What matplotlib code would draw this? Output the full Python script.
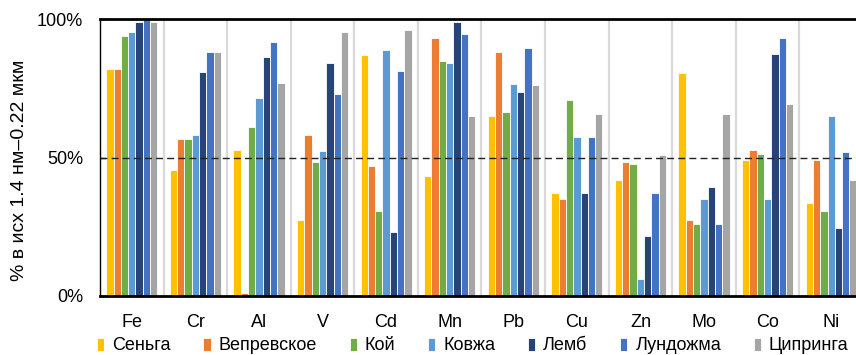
import numpy as np
import matplotlib.pyplot as plt

plt.rcParams['font.family'] = ['Liberation Sans', 'DejaVu Sans']

elements = ['Fe', 'Cr', 'Al', 'V', 'Cd', 'Mn', 'Pb', 'Cu', 'Zn', 'Mo', 'Co', 'Ni']
sites = ['Сеньга', 'Вепревское', 'Кой', 'Ковжа', 'Лемб', 'Лундожма', 'Ципринга']

# share of the 1.4 nm - 0.22 um fraction, %
senga = [82, 45.5, 52.8, 27.5, 87, 43.3, 65, 37.3, 41.8, 80.5, 49, 33.6]
veprevskoe = [82, 56.7, 1, 58, 47, 93, 88, 35, 48.4, 27.5, 52.8, 49]
koy = [94, 56.7, 61, 48.4, 30.7, 84.8, 66.3, 70.8, 47.7, 26, 51.4, 30.7]
kovzha = [95.3, 58, 71.5, 52.2, 88.7, 84.2, 76.6, 57.4, 6, 35, 35, 65]
lemb = [99, 81, 86.4, 84.2, 23.1, 99, 73.8, 37.3, 21.7, 39.5, 87.2, 24.5]
lundozhma = [100, 88, 91.6, 73, 81.2, 94.6, 89.4, 57.4, 37.3, 26, 93, 52]
tsipringa = [99, 88, 76.8, 95.3, 96, 65, 76, 65.6, 51, 65.6, 69.3, 41.8]

series = [senga, veprevskoe, koy, kovzha, lemb, lundozhma, tsipringa]
colors = ['#FFC000', '#ED7D31', '#70AD47', '#5B9BD5', '#264478', '#4472C4', '#A5A5A5']

fig = plt.figure(figsize=(8.56, 3.55), dpi=100)
ax = fig.add_axes([100 / 856, 59 / 355, 763 / 856, 277 / 355])

x = np.arange(len(elements))
width = 0.115
for i, (vals, col, name) in enumerate(zip(series, colors, sites)):
    ax.bar(x + (i - 3) * width, vals, width, color=col, edgecolor='white',
           linewidth=0.6, label=name, zorder=2)

# group separators
for b in np.arange(0.5, len(elements) - 0.5, 1):
    ax.axvline(b, color='#D9D9D9', lw=1.6, zorder=1)

ax.axhline(50, color='#222222', lw=1.0, ls=(0, (5, 3)), zorder=4)

ax.set_xlim(-0.5, len(elements) - 0.5)
ax.set_ylim(0, 100)
ax.set_yticks([0, 50, 100])
ax.set_yticklabels(['0%', '50%', '100%'], fontsize=13)
ax.set_xticks(x)
ax.set_xticklabels(elements, fontsize=13)
ax.tick_params(axis='x', length=0, pad=13)
ax.tick_params(axis='y', length=4, width=1, direction='in', pad=12)

for side in ['top', 'bottom']:
    ax.spines[side].set_linewidth(2)
ax.spines['left'].set_linewidth(1)
ax.spines['right'].set_visible(False)
for sp in ax.spines.values():
    sp.set_zorder(5)

ax.set_ylabel('% в исх 1.4 нм–0.22 мкм', fontsize=14)
ax.yaxis.set_label_coords(-0.094, 0.455)

fig.legend(loc='center left', bbox_to_anchor=(97 / 856, 9 / 355), ncol=7, frameon=False,
           fontsize=13, handlelength=0.4, handleheight=0.7, handletextpad=0.45,
           columnspacing=1.8, borderaxespad=0.0, borderpad=0.0)

fig.savefig('out.png', dpi=100)
